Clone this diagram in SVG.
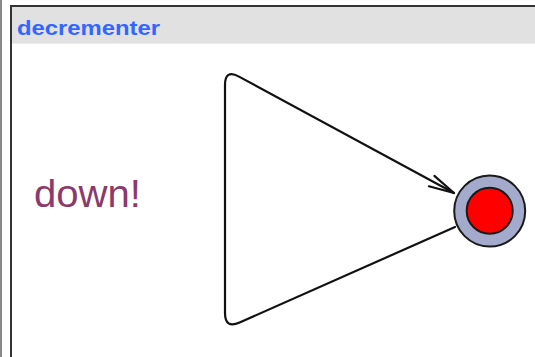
<svg xmlns="http://www.w3.org/2000/svg" width="535" height="357" viewBox="0 0 535 357">
<style>
.edge{fill:none;stroke:#111;stroke-width:2.2;stroke-linejoin:round;stroke-linecap:round}
.title{font-family:"Liberation Sans",Arial,sans-serif;font-weight:bold;font-size:21px;fill:#3366ff}
.sync{font-family:"Liberation Sans",Arial,sans-serif;font-size:39px;fill:#8b3a6b}
</style>
<rect x="0" y="0" width="535" height="357" fill="#ffffff"/>
<line x1="1" y1="0" x2="1" y2="357" stroke="#888" stroke-width="2"/>
<g id="frame">
<rect x="11" y="6" width="530" height="360" fill="#ffffff" stroke="#333" stroke-width="2"/>
<rect x="12" y="7" width="523" height="36" fill="#e1e1e1"/>
<line x1="12" y1="43.5" x2="535" y2="43.5" stroke="#ededed" stroke-width="1"/>
<text class="title" x="17" y="35" textLength="143" lengthAdjust="spacingAndGlyphs">decrementer</text>
</g>
<g id="connectors">
<path class="edge" d="M455,227 L239.6,322.5 Q225,329 225,313 L225,85 Q225,69 239,76.6 L454,193"/>
<path class="edge" d="M434.4,175.9 L454,193 L428.9,186.3"/>
<text class="sync" x="34" y="207" textLength="107" lengthAdjust="spacingAndGlyphs">down!</text>
</g>
<g id="state">
<circle cx="489.7" cy="211" r="35.5" fill="#a3aacb" stroke="#1a1a1a" stroke-width="2"/>
<circle cx="489.7" cy="210.8" r="23" fill="#ff0000" stroke="#1a1a1a" stroke-width="2"/>
</g>
</svg>
